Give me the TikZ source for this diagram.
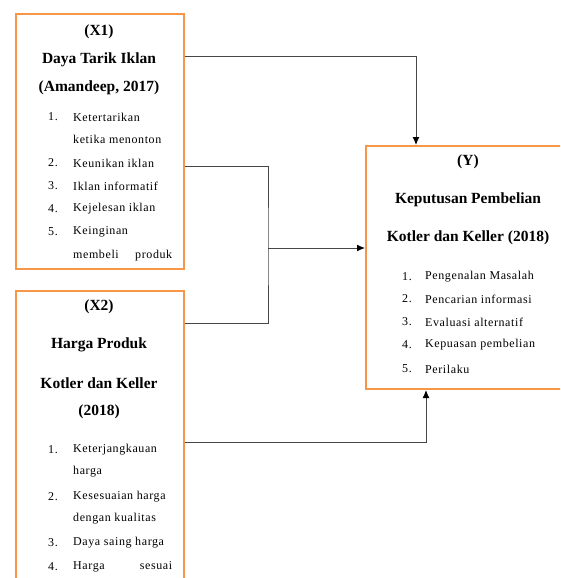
\documentclass[tikz,border=0pt]{standalone}
\usepackage{fontspec}
\setmainfont{Liberation Serif}
\newfontfamily\itemfont[LetterSpace=5]{Liberation Serif}
\usetikzlibrary{arrows.meta, positioning}
\definecolor{BoxOrange}{RGB}{247,150,70}
\definecolor{LineGrey}{RGB}{70,70,70}

\begin{document}
\begin{tikzpicture}[x=1pt, y=-1pt,
    varbox/.style={draw=BoxOrange, line width=2pt, fill=white, inner sep=0pt, anchor=north west},
    head/.style={font=\fontsize{15.5}{18}\selectfont\bfseries, inner sep=0pt},
    item/.style={font=\itemfont\fontsize{12}{14}\selectfont, anchor=west, inner sep=0pt},
    conn/.style={draw=LineGrey, line width=1pt},
    tip/.style={-{Latex[length=8pt, width=7pt, color=black]}}]
    \clip (0,0) rectangle (560,578);

    % the three variable boxes
    \node[varbox, minimum width=168pt, minimum height=255pt] (x1box) at (15,13) {};
    \node[varbox, minimum width=168pt, minimum height=310pt] (x2box) at (15,290) {};
    \node[varbox, minimum width=215pt, minimum height=243pt] (ybox) at (365,145) {};

    % X1
    \node[head] (x1code) at (99,32) {(X1)};
    \node[head] (x1name) at (99,60) {Daya Tarik Iklan};
    \node[head] (x1src) at (99,88) {(Amandeep, 2017)};
    \node[item] (x1n1) at (48,117) {1.};
    \node[item] (x1i1) at (73,117) {Ketertarikan};
    \node[item] (x1i1b) at (73,139) {ketika menonton};
    \node[item] (x1n2) at (48,163) {2.};
    \node[item] (x1i2) at (73,163) {Keunikan iklan};
    \node[item] (x1n3) at (48,186) {3.};
    \node[item] (x1i3) at (73,186) {Iklan informatif};
    \node[item] (x1n4) at (48,209) {4.};
    \node[item] (x1i4) at (73,209) {Kejelesan iklan};
    \node[item] (x1n5) at (48,232) {5.};
    \node[item] (x1i5) at (73,232) {Keinginan};
    \node[item, text width=99pt] (x1i5b) at (73,256) {membeli\hfill produk};

    % X2
    \node[head] (x2code) at (99,307) {(X2)};
    \node[head] (x2name) at (99,345) {Harga Produk};
    \node[head] (x2src) at (99,383) {Kotler dan Keller};
    \node[head] (x2year) at (99,412) {(2018)};
    \node[item] (x2n1) at (48,450) {1.};
    \node[item] (x2i1) at (73,450) {Keterjangkauan};
    \node[item] (x2i1b) at (73,472) {harga};
    \node[item] (x2n2) at (48,497) {2.};
    \node[item] (x2i2) at (73,497) {Kesesuaian harga};
    \node[item] (x2i2b) at (73,519) {dengan kualitas};
    \node[item] (x2n3) at (48,543) {3.};
    \node[item] (x2i3) at (73,543) {Daya saing harga};
    \node[item] (x2n4) at (48,567) {4.};
    \node[item, text width=99pt] (x2i4) at (73,567) {Harga\hfill sesuai};

    % Y
    \node[head] (ycode) at (468,162) {(Y)};
    \node[head] (yname) at (468,200) {Keputusan Pembelian};
    \node[head] (ysrc) at (468,238) {Kotler dan Keller (2018)};
    \node[item] (yn1) at (402,277) {1.};
    \node[item] (yi1) at (425,277) {Pengenalan Masalah};
    \node[item] (yn2) at (402,299) {2.};
    \node[item] (yi2) at (425,299) {Pencarian informasi};
    \node[item] (yn3) at (402,322) {3.};
    \node[item] (yi3) at (425,322) {Evaluasi alternatif};
    \node[item] (yn4) at (402,345) {4.};
    \node[item] (yi4) at (425,345) {Kepuasan pembelian};
    \node[item] (yn5) at (402,369) {5.};
    \node[item] (yi5) at (425,369) {Perilaku};

    % connectors
    \coordinate (topbend) at (416,57);
    \coordinate (join) at (268,248);
    \coordinate (lowbend) at (426,442);
    \draw[conn, tip] (x1box.east |- topbend) -| (topbend |- ybox.north);
    \draw[conn] (x1box.east |- 0,166) -| (join) |- (x2box.east |- 0,323);
    \draw[conn, tip] (join) -- (ybox.west |- join);
    \draw[conn, tip] (x2box.east |- lowbend) -| (lowbend |- ybox.south);
\end{tikzpicture}
\end{document}
